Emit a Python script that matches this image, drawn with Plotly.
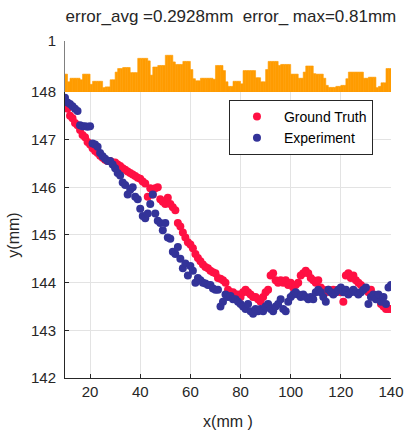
import plotly.graph_objects as go

# ---- data ----
x_pos = list(range(10, 141))

ground_truth = [
    147.70, 147.65, 147.50, 147.45, 147.35, 147.30, 147.20, 147.10, 147.05, 146.95,  # 10-19
    146.90, 146.82, 146.76, 146.72, 146.66, 146.62, 146.58, 146.55, 146.55, 146.52,  # 20-29
    146.52, 146.48, 146.45, 146.40, 146.37, 146.33, 146.30, 146.27, 146.24, 146.20,  # 30-39
    146.18, 146.12, 146.08, 145.80, 145.98, 145.85, 145.98, 146.00, 145.75, 145.70,  # 40-49
    145.65, 145.78, 145.65, 145.58, 145.52, 145.25, 145.18, 145.05, 144.95, 144.85,  # 50-59
    144.80, 144.72, 144.60, 144.52, 144.45, 144.38, 144.33, 144.30, 144.25, 144.22,  # 60-69
    144.20, 144.10, 144.08, 144.05, 144.00, 143.85, 143.80, 143.80, 143.75, 143.75,  # 70-79
    143.70, 143.80, 143.85, 143.80, 143.75, 143.70, 143.70, 143.65, 143.60, 143.70,  # 80-89
    143.80, 143.85, 144.15, 144.20, 144.05, 144.00, 144.05, 144.00, 144.05, 143.95,  # 90-99
    144.00, 143.90, 143.95, 144.00, 144.15, 144.20, 144.25, 144.20, 144.10, 144.05,  # 100-109
    144.00, 144.05, 143.90, 143.85, 143.80, 143.85, 143.80, 143.85, 143.80, 143.85,  # 110-119
    143.80, 143.60, 144.15, 144.20, 144.10, 144.15, 144.05, 144.00, 143.95, 143.90,  # 120-129
    143.85, 143.80, 143.85, 143.75, 143.70, 143.65, 143.55, 143.50, 143.45, 143.45,  # 130-139
    143.45,                                                                          # 140
]

experiment = [
    147.88, 147.78, 147.75, 147.70, 147.65, 147.60, 147.30, 147.28, 147.28, 147.27,  # 10-19
    147.28, 146.92, 146.90, 146.85, 146.72, 146.65, 146.60, 146.55, 146.55, 146.48,  # 20-29
    146.40, 146.30, 146.25, 146.10, 146.05, 145.85, 145.95, 146.00, 145.80, 145.75,  # 30-39
    145.55, 145.40, 145.35, 145.45, 145.65, 145.85, 145.45, 145.30, 145.25, 145.10,  # 40-49
    145.25, 144.95, 144.92, 144.65, 144.60, 144.75, 144.50, 144.30, 144.40, 144.15,  # 50-59
    144.35, 144.25, 144.00, 144.10, 144.05, 144.00, 143.98, 143.95, 143.95, 143.88,  # 60-69
    143.85, 143.85, 143.50, 143.60, 143.75, 143.70, 143.72, 143.65, 143.65, 143.60,  # 70-79
    143.55, 143.50, 143.45, 143.55, 143.40, 143.35, 143.45, 143.40, 143.45, 143.40,  # 80-89
    143.50, 143.55, 143.45, 143.40, 143.50, 143.55, 143.65, 143.45, 143.40, 143.60,  # 90-99
    143.70, 143.75, 143.80, 143.75, 143.70, 143.75, 143.70, 143.65, 143.70, 143.65,  # 100-109
    143.80, 143.85, 143.80, 143.70, 143.60, 143.85, 143.80, 143.75, 143.80, 143.85,  # 110-119
    143.90, 143.80, 143.85, 143.75, 143.80, 143.85, 143.80, 143.75, 143.80, 143.85,  # 120-129
    143.90, 143.55, 143.70, 143.75, 143.65, 143.75, 143.60, 143.70, 143.55, 143.90,  # 130-139
    143.95,                                                                          # 140
]

bar_x = list(range(10, 140))
bar_err = [
    0.35, 0.20, 0.27, 0.27, 0.27, 0.27, 0.24, 0.35, 0.35, 0.35,  # 10-19
    0.15, 0.21, 0.21, 0.21, 0.21, 0.085, 0.10, 0.10, 0.24, 0.24,  # 20-29
    0.39, 0.46, 0.46, 0.48, 0.48, 0.48, 0.38, 0.38, 0.38, 0.66,  # 30-39
    0.66, 0.66, 0.66, 0.61, 0.33, 0.49, 0.49, 0.52, 0.52, 0.52,  # 40-49
    0.72, 0.72, 0.72, 0.59, 0.54, 0.54, 0.54, 0.60, 0.60, 0.60,  # 50-59
    0.44, 0.26, 0.22, 0.22, 0.27, 0.27, 0.27, 0.27, 0.27, 0.25,  # 60-69
    0.52, 0.52, 0.52, 0.42, 0.20, 0.11, 0.11, 0.21, 0.21, 0.21,  # 70-79
    0.16, 0.42, 0.42, 0.42, 0.42, 0.42, 0.28, 0.28, 0.20, 0.20,  # 80-89
    0.44, 0.60, 0.60, 0.60, 0.60, 0.52, 0.54, 0.54, 0.54, 0.54,  # 90-99
    0.35, 0.35, 0.35, 0.27, 0.27, 0.39, 0.51, 0.51, 0.51, 0.36,  # 100-109
    0.35, 0.35, 0.35, 0.27, 0.13, 0.09, 0.09, 0.09, 0.11, 0.11,  # 110-119
    0.13, 0.13, 0.26, 0.39, 0.39, 0.39, 0.39, 0.39, 0.39, 0.27,  # 120-129
    0.27, 0.29, 0.29, 0.29, 0.085, 0.11, 0.18, 0.18, 0.46, 0.46,  # 130-139
]

x_ticks = [20, 40, 60, 80, 100, 120, 140]
y_ticks = [142, 143, 144, 145, 146, 147, 148]
title_text = "error_avg =0.2928mm  error_ max=0.81mm"

# ---- styles ----
RED = "#FF1043"
BLUE = "#333399"
ORANGE = "#FF9C00"
AX = "#262626"
GRID = "#e3e3e3"
FONT = "Liberation Sans, Arial, sans-serif"

fig = go.Figure()

fig.add_trace(go.Bar(
    x=bar_x, y=bar_err, width=1, offset=0,
    marker=dict(color=ORANGE, line=dict(width=0.6, color=ORANGE)),
    xaxis="x2", yaxis="y2", showlegend=False, hoverinfo="skip",
))

fig.add_trace(go.Scatter(
    x=x_pos, y=ground_truth, mode="markers", name="Ground Truth",
    marker=dict(color=RED, size=8, line=dict(width=0)),
))
fig.add_trace(go.Scatter(
    x=x_pos, y=experiment, mode="markers", name="Experiment",
    marker=dict(color=BLUE, size=8, line=dict(width=0)),
))

split = 0.8487

fig.update_layout(
    width=405, height=432,
    margin=dict(l=65, r=14, t=41, b=54, autoexpand=False),
    paper_bgcolor="white", plot_bgcolor="white",
    font=dict(family=FONT, size=15, color=AX),
    title=dict(text=title_text, font=dict(size=17, color=AX, family=FONT),
               x=0.509, xref="paper", xanchor="center",
               y=1 - 16 / 432, yref="container", yanchor="middle"),
    showlegend=True,
    legend=dict(x=0.503, y=0.825, xanchor="left", yanchor="top",
                bgcolor="white", bordercolor=AX, borderwidth=1,
                font=dict(size=14, color="black", family=FONT),
                itemwidth=44, tracegroupgap=0),
    xaxis=dict(domain=[0, 1], range=[10, 140], tickvals=x_ticks,
               showgrid=True, gridcolor=GRID, gridwidth=1,
               showline=True, linecolor=AX, linewidth=1,
               ticks="inside", ticklen=4, tickcolor=AX,
               tickfont=dict(size=15), zeroline=False, automargin=False,
               title=dict(text="x(mm )", font=dict(size=16), standoff=16),
               anchor="y"),
    yaxis=dict(domain=[0, split], range=[142, 148], tickvals=y_ticks,
               showgrid=True, gridcolor=GRID, gridwidth=1,
               showline=True, linecolor=AX, linewidth=1,
               ticks="inside", ticklen=4, tickcolor=AX,
               tickfont=dict(size=15), zeroline=False, automargin=False,
               ticklabelstandoff=5,
               title=dict(text="y(mm)", font=dict(size=16), standoff=7),
               anchor="x"),
    xaxis2=dict(domain=[0, 1], range=[10, 140], matches="x",
                showticklabels=False, showgrid=False, showline=False,
                zeroline=False, anchor="y2", automargin=False),
    yaxis2=dict(domain=[split, 1], range=[0, 1], tickvals=[1],
                showgrid=False, showline=True, linecolor="#808080", linewidth=1,
                ticks="inside", ticklen=4, tickcolor="#808080",
                tickfont=dict(size=15), zeroline=False, automargin=False,
                ticklabelstandoff=5, anchor="x2"),
)

fig.write_html("out.html")
